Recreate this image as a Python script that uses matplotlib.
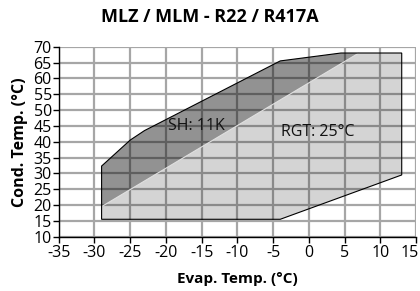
import matplotlib
matplotlib.use("Agg")
import matplotlib.pyplot as plt
from matplotlib.patches import Polygon
from matplotlib.transforms import ScaledTranslation

title = "MLZ / MLM - R22 / R417A"
xlabel = "Evap. Temp. (°C)"
ylabel = "Cond. Temp. (°C)"

# envelope outline (evap, cond)
env_x = [-29, -4, 13, 13, 4.5, -4, -23, -25, -29]
env_y = [15.5, 15.5, 29.5, 68, 68, 65.5, 43.5, 40.5, 32.3]
# SH 11K zone (upper-left band)
sh_x = [-29, 7, 4.5, -4, -23, -25, -29]
sh_y = [19.5, 68, 68, 65.5, 43.5, 40.5, 32.3]

xticks = list(range(-35, 16, 5))
yticks = list(range(10, 71, 5))
xticklabels = [str(v) for v in xticks]
yticklabels = [str(v) for v in yticks]

plt.rcParams['font.family'] = ['Open Sans', 'DejaVu Sans']

fig = plt.figure(figsize=(4.2, 2.91), dpi=100)
ax = fig.add_axes([0.1398, 0.1866, 0.8507, 0.653])

ax.set_xlim(-35, 15)
ax.set_ylim(10, 70)
ax.set_xticks(xticks)
ax.set_xticklabels(xticklabels)
ax.set_yticks(yticks)
ax.set_yticklabels(yticklabels)
ax.grid(True, color='#a6a6a6', linewidth=1.6, zorder=0)
ax.set_axisbelow(True)

light = Polygon(list(zip(env_x, env_y)), closed=True, facecolor='black', alpha=0.17,
                edgecolor='none', zorder=2)
dark = Polygon(list(zip(sh_x, sh_y)), closed=True, facecolor='black', alpha=0.31,
               edgecolor='none', zorder=3)
ax.add_patch(light)
ax.add_patch(dark)
ax.plot([sh_x[0], sh_x[1]], [sh_y[0], sh_y[1]], color='#e0e0e0', linewidth=0.8, zorder=4)
ax.add_patch(Polygon(list(zip(env_x, env_y)), closed=True, fill=False,
                     edgecolor='black', linewidth=0.8, zorder=5))

ax.text(-15.8, 44.8, "SH: 11K", fontsize=11.5, ha='center', va='center', color='#111111', zorder=6)
ax.text(1.3, 43.2, "RGT: 25°C", fontsize=11.5, ha='center', va='center', color='#111111', zorder=6)

for s in ['top', 'right']:
    ax.spines[s].set_visible(False)
for s in ['left', 'bottom']:
    ax.spines[s].set_color('black')
    ax.spines[s].set_linewidth(1.0)
ax.tick_params(axis='both', direction='out', length=4, width=1.0, labelsize=11.5,
               color='black')
ax.tick_params(axis='x', pad=2)
ax.tick_params(axis='y', pad=1)
lbl = ax.get_xticklabels()[-1]
lbl.set_transform(lbl.get_transform() + ScaledTranslation(-6 / 100, 0, fig.dpi_scale_trans))

ax.set_xlabel(xlabel, fontsize=11, fontweight='bold', labelpad=8)
ax.set_ylabel(ylabel, fontsize=11.5, fontweight='bold', labelpad=4)
fig.text(0.5, 0.94, title, fontsize=13, fontweight='bold', ha='center', va='center')

fig.savefig("out.png", dpi=100)
